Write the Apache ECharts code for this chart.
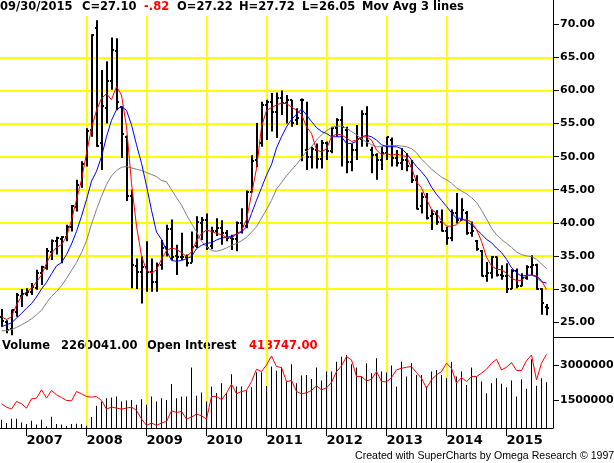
<!DOCTYPE html>
<html>
<head>
<meta charset="utf-8">
<script src="https://cdn.jsdelivr.net/npm/echarts@6/dist/echarts.min.js"></script>
<style>
html, body { margin: 0; padding: 0; background: #fff; }
#chart { width: 614px; height: 463px; }
</style>
</head>
<body>
<div id="chart"></div>
<script>
// monthly bars, Aug 2006 .. Sep 2015
const months = [
  '2006-08', '2006-09', '2006-10', '2006-11', '2006-12',
  '2007-01', '2007-02', '2007-03', '2007-04', '2007-05', '2007-06', '2007-07', '2007-08', '2007-09', '2007-10', '2007-11', '2007-12',
  '2008-01', '2008-02', '2008-03', '2008-04', '2008-05', '2008-06', '2008-07', '2008-08', '2008-09', '2008-10', '2008-11', '2008-12',
  '2009-01', '2009-02', '2009-03', '2009-04', '2009-05', '2009-06', '2009-07', '2009-08', '2009-09', '2009-10', '2009-11', '2009-12',
  '2010-01', '2010-02', '2010-03', '2010-04', '2010-05', '2010-06', '2010-07', '2010-08', '2010-09', '2010-10', '2010-11', '2010-12',
  '2011-01', '2011-02', '2011-03', '2011-04', '2011-05', '2011-06', '2011-07', '2011-08', '2011-09', '2011-10', '2011-11', '2011-12',
  '2012-01', '2012-02', '2012-03', '2012-04', '2012-05', '2012-06', '2012-07', '2012-08', '2012-09', '2012-10', '2012-11', '2012-12',
  '2013-01', '2013-02', '2013-03', '2013-04', '2013-05', '2013-06', '2013-07', '2013-08', '2013-09', '2013-10', '2013-11', '2013-12',
  '2014-01', '2014-02', '2014-03', '2014-04', '2014-05', '2014-06', '2014-07', '2014-08', '2014-09', '2014-10', '2014-11', '2014-12',
  '2015-01', '2015-02', '2015-03', '2015-04', '2015-05', '2015-06', '2015-07', '2015-08', '2015-09'
];

const opens = [
  25.8, 25.0, 24.0, 26.5, 29.0, 29.3, 29.5, 30.2, 32.4, 33.2,
  35.6, 37.2, 37.6, 37.8, 39.3, 42.4, 45.8, 49.6, 54.0, 69.5,
  52.0, 57.3, 61.5, 66.0, 57.5, 53.0, 44.0, 33.5, 32.5, 33.3,
  32.5, 31.0, 33.7, 36.3, 39.0, 35.0, 34.9, 34.9, 34.0, 36.5,
  40.0, 40.4, 36.5, 38.8, 39.2, 38.5, 37.7, 37.5, 39.9, 39.5,
  44.6, 49.5, 52.0, 57.8, 58.3, 56.7, 58.8, 58.1, 58.5, 55.5,
  58.6, 51.0, 50.0, 51.0, 49.6, 52.0, 50.8, 54.3, 55.5, 54.0,
  49.2, 51.0, 52.6, 56.5, 51.0, 50.3, 49.5, 50.5, 52.5, 49.8,
  49.0, 49.5, 48.6, 46.5, 42.5, 43.9, 41.0, 41.3, 40.2, 38.8,
  37.7, 41.5, 40.4, 41.5, 38.5, 37.2, 35.8, 32.0, 32.4, 34.8,
  32.1, 32.0, 30.0, 32.7, 30.5, 31.6, 33.3, 33.6, 30.0, 27.22
];
const highs = [
  27.0, 25.3, 26.9, 29.4, 30.0, 30.1, 30.9, 32.9, 33.5, 36.2,
  37.5, 37.9, 38.0, 39.7, 42.7, 46.5, 49.3, 54.3, 68.5, 70.6,
  63.1, 64.4, 68.0, 67.9, 57.6, 53.2, 45.0, 34.6, 34.9, 37.2,
  34.6, 34.0, 37.4, 39.7, 40.5, 36.7, 38.5, 35.2, 38.7, 41.0,
  40.9, 41.4, 39.4, 40.7, 40.4, 38.9, 38.2, 40.2, 42.2, 44.9,
  50.2, 55.1, 58.3, 58.6, 59.6, 59.7, 60.0, 59.3, 58.6, 57.3,
  58.8, 58.3, 51.5, 52.0, 52.5, 52.3, 54.5, 55.8, 57.6, 54.5,
  52.0, 54.8, 57.0, 57.6, 51.5, 50.5, 51.5, 53.0, 52.9, 51.0,
  51.3, 50.5, 49.5, 47.2, 44.6, 44.5, 42.0, 41.9, 42.0, 39.4,
  42.0, 44.5, 43.7, 41.8, 40.2, 37.4, 35.9, 34.1, 35.0, 34.9,
  33.6, 33.9, 33.0, 33.1, 32.4, 33.6, 35.1, 33.8, 30.1, 27.72
];
const lows = [
  24.3, 23.3, 23.0, 25.8, 27.3, 28.9, 29.1, 29.9, 30.6, 32.9,
  34.4, 35.2, 33.9, 37.2, 38.7, 41.7, 45.3, 48.5, 53.0, 51.5,
  48.0, 55.0, 60.1, 57.0, 49.8, 43.3, 30.1, 30.0, 27.8, 29.6,
  29.6, 29.6, 32.9, 34.9, 34.4, 32.1, 34.4, 33.4, 34.0, 36.2,
  37.4, 35.9, 36.0, 38.0, 36.7, 37.2, 35.9, 35.7, 38.4, 39.2,
  44.6, 48.4, 51.5, 52.5, 53.8, 52.8, 56.3, 55.0, 54.5, 54.8,
  49.3, 48.0, 48.2, 48.2, 48.2, 49.5, 50.5, 53.0, 48.5, 47.5,
  47.8, 49.5, 51.5, 51.5, 47.5, 46.5, 48.0, 49.5, 48.5, 48.5,
  48.0, 47.8, 46.0, 42.0, 41.4, 40.5, 38.9, 39.7, 38.7, 36.7,
  37.2, 39.9, 40.4, 38.2, 37.9, 35.8, 31.9, 31.1, 31.6, 31.9,
  31.4, 29.4, 30.0, 30.1, 30.4, 31.4, 32.1, 29.9, 26.1, 26.05
];
const closes = [
  25.2, 23.8, 26.8, 29.1, 29.2, 29.5, 30.3, 32.4, 33.3, 35.7,
  37.2, 37.7, 37.8, 39.4, 42.5, 45.7, 48.9, 53.8, 68.4, 51.6,
  57.7, 61.4, 66.1, 58.3, 53.4, 44.1, 33.6, 32.5, 33.3, 32.6,
  31.0, 33.6, 36.2, 39.1, 34.9, 34.9, 34.9, 33.9, 36.3, 40.1,
  40.4, 36.2, 38.8, 39.2, 38.5, 37.7, 37.5, 39.9, 39.5, 44.6,
  49.4, 50.6, 57.8, 58.3, 56.7, 58.8, 58.1, 58.6, 55.1, 55.8,
  58.6, 50.0, 51.1, 49.6, 52.0, 50.8, 54.3, 55.5, 54.5, 49.2,
  51.0, 52.6, 56.5, 52.3, 50.3, 49.5, 50.5, 52.9, 49.8, 49.0,
  49.5, 48.6, 46.4, 42.1, 43.9, 40.8, 41.3, 40.2, 38.8, 37.7,
  41.5, 40.4, 42.0, 38.4, 38.8, 36.0, 32.0, 32.4, 34.8, 32.1,
  32.0, 30.0, 32.7, 30.5, 31.6, 33.3, 33.6, 30.0, 27.92, 27.10
];

// the three moving averages as drawn
const maRed = [
  25.8, 25.4, 25.8, 27.6, 28.9, 29.6, 30.1, 31.1, 32.1, 33.9,
  35.4, 36.3, 36.7, 37.9, 40.4, 43.5, 46.5, 50.5, 54.3, 57.0,
  58.8, 59.5, 58.6, 60.6, 59.3, 54.5, 46.0, 39.5, 35.0, 32.8,
  32.4, 32.9, 34.5, 35.8, 36.2, 36.0, 35.5, 34.9, 35.6, 37.3,
  38.4, 38.9, 38.7, 38.4, 38.2, 37.8, 37.7, 38.3, 38.8, 40.5,
  44.3, 48.2, 54.5, 57.0, 57.4, 57.8, 58.1, 58.0, 57.5, 57.0,
  56.4, 54.5, 53.5, 51.0, 50.7, 51.2, 53.0, 53.4, 53.3, 52.8,
  52.3, 52.5, 53.0, 53.0, 52.5, 51.0, 50.3, 50.5, 50.2, 50.4,
  50.2, 50.0, 48.3, 46.2, 45.3, 43.6, 42.0, 41.5, 40.3, 39.5,
  39.5, 39.7, 40.4, 40.5, 40.1, 39.0, 37.2, 34.8, 33.5, 33.0,
  32.9, 32.4, 31.6, 31.3, 31.3, 32.0, 32.1, 32.0, 31.3, 29.9
];
const maBlue = [
  24.3, 24.6, 24.9, 25.6, 26.3, 27.1, 27.8, 28.8, 30.0, 31.0,
  32.3, 33.5, 34.0, 35.2, 36.8, 38.7, 41.0, 43.5, 46.3, 47.8,
  50.0, 53.0, 55.5, 57.1, 57.6, 57.0, 54.8, 51.8, 49.0, 45.6,
  41.9, 38.6, 37.5, 35.8, 34.3, 34.2, 34.3, 34.6, 34.9, 36.1,
  36.6, 36.9, 37.0, 37.4, 37.7, 37.8, 38.0, 38.3, 38.6, 39.4,
  41.4, 43.4, 45.3, 47.2, 48.8, 51.3, 53.0, 54.5, 55.6, 56.4,
  57.2, 56.3, 55.3, 54.4, 53.8, 53.5, 53.0, 53.0, 53.0, 52.0,
  52.0, 52.3, 53.0, 53.2, 53.0, 52.5, 51.8, 51.5, 51.5, 51.5,
  51.2, 50.5, 49.5, 48.5, 47.7, 46.8, 45.4, 44.3, 43.4, 42.5,
  41.5, 40.7, 40.7, 40.2, 39.7, 39.0, 38.3, 37.5, 37.0, 36.2,
  35.5, 34.5, 33.2, 32.5, 31.9, 32.1, 32.1, 31.8, 31.1, 30.9
];
const maGray = [
  23.7, 23.7, 23.9, 24.2, 24.6, 25.0, 25.5, 26.1, 26.8, 27.9,
  28.9, 29.6, 30.5, 31.6, 32.8, 34.0, 35.5, 37.3, 39.8, 42.0,
  44.0, 45.8, 47.1, 47.9, 48.4, 48.5, 48.3, 48.1, 47.9, 47.6,
  47.3, 47.0, 46.4, 46.2, 45.0, 43.8, 42.7, 41.2, 39.9, 38.7,
  37.2, 36.4, 35.8, 35.7, 35.9, 36.2, 36.6, 36.9, 37.3, 37.8,
  38.6, 39.4, 40.7, 42.0, 43.4, 45.1, 46.1, 47.1, 48.0, 48.8,
  49.8, 50.8, 51.5, 52.5, 53.3, 53.9, 54.4, 54.6, 54.6, 54.3,
  53.8, 53.3, 52.7, 52.2, 51.8, 51.5, 51.5, 51.7, 51.7, 51.7,
  51.6, 51.5, 51.2, 50.6, 49.6, 48.9, 48.1, 47.5, 46.9, 46.5,
  46.0, 45.3, 44.8, 44.4, 43.8, 43.1, 41.9, 40.6, 39.2, 38.2,
  37.5, 36.9, 36.3, 35.6, 35.2, 35.0, 34.9, 34.5, 33.8, 33.1
];

const volume = [
  663000, 523000, 705000, 705000, 540000, 480000, 620000, 460000, 663000, 380000,
  790000, 480000, 460000, 400000, 480000, 495000, 480000, 410000, 777000, 1260000,
  1440000, 1580000, 1610000, 1650000, 1440000, 1480000, 1500000, 1300000, 1540000, 1300000,
  1650000, 1440000, 1580000, 1500000, 2190000, 1580000, 1650000, 1650000, 2890000, 1690000,
  1820000, 1440000, 2080000, 1800000, 2220000, 1800000, 2600000, 2080000, 2080000, 1900000,
  2050000, 2690000, 2690000, 2100000, 2930000, 2750000, 2890000, 2290000, 3030000, 2220000,
  2547000, 2575000, 2405000, 2887000, 2334000, 2717000, 2717000, 3142000, 3354000, 3425000,
  3028000, 2887000, 2504000, 3071000, 2646000, 3283000, 2717000, 2674000, 2972000, 2079000,
  3142000, 2504000, 3071000, 2575000, 2575000, 2079000, 2717000, 2788000, 2575000, 2433000,
  3142000, 2504000, 2717000, 2150000, 2887000, 2504000, 2292000, 1796000, 2221000, 2433000,
  2193000, 2051000, 2334000, 1654000, 2391000, 1980000, 3241000, 2108000, 2433000, 2260041
];
const openInterest = [
  135900, 117300, 106100, 148900, 135900, 111700, 163900, 167600, 214200, 167600,
  210500, 186200, 171300, 154500, 152700, 204900, 191800, 176900, 173200, 176900,
  154500, 106100, 117300, 111700, 106100, 111700, 117300, 98600, 50200, 14700,
  27800, 14700, 27800, 37100, 96700, 87400, 93000, 50200, 61300, 78100,
  68800, 50200, 176900, 176900, 158300, 195600, 245900, 191800, 204900, 210500,
  260800, 329800, 316700, 354000, 404300, 344700, 339100, 260800, 266400, 204900,
  191800, 197400, 210500, 236600, 214200, 225400, 255200, 316700, 348400, 400600,
  382000, 288700, 288700, 264500, 273800, 316700, 260800, 258900, 283100, 326000,
  335300, 341000, 344700, 311100, 279400, 223500, 270100, 298100, 316700, 363300,
  335300, 251500, 283100, 260800, 288700, 288700, 307400, 329700, 363300, 385700,
  326000, 341000, 367000, 322300, 322300, 378200, 409900, 270100, 363300, 413747
];

const priceTicks = [25, 30, 35, 40, 45, 50, 55, 60, 65, 70];
const volumeTicks = [1500000, 3000000];

const idx = months.map((m, i) => i);
const yearTicks = idx.filter(i => months[i].endsWith('-01'));

const boldFont = '"DejaVu Sans"';
const yellow = '#ffff00';

const chart = echarts.init(document.getElementById('chart'));

function txt(x, y, s, color, size) {
  return {
    type: 'text', x: x, y: y, silent: true,
    style: {
      text: s, fill: color || '#000',
      font: 'bold ' + (size || 11.5) + 'px "DejaVu Sans"',
      verticalAlign: 'middle'
    }
  };
}

// a fresh object each time, echarts merges into option objects
function gridLine() {
  return { show: true, showMinLine: false, showMaxLine: false, lineStyle: { color: yellow, width: 2, opacity: 1 } };
}

chart.setOption({
  animation: false,
  backgroundColor: '#fff',
  grid: [
    { left: 0, right: 61, top: 16, height: 322, outerBoundsMode: 'none' },
    { left: 0, right: 61, top: 338, height: 90, outerBoundsMode: 'none' }
  ],
  xAxis: [
    {
      gridIndex: 0, type: 'value', min: -0.3, max: 110.3,
      axisLine: { show: false, onZero: false },
      axisTick: { show: false, customValues: yearTicks },
      axisLabel: { show: false },
      splitLine: gridLine()
    },
    {
      gridIndex: 1, type: 'value', min: -0.3, max: 110.3,
      axisLine: { show: true, onZero: false, lineStyle: { color: '#000', width: 1 } },
      axisTick: { show: true, customValues: yearTicks, length: 8, lineStyle: { color: '#000', width: 1 } },
      axisLabel: {
        customValues: yearTicks,
        formatter: v => months[v].slice(0, 4),
        align: 'left', margin: 6, color: '#000',
        fontFamily: boldFont, fontWeight: 'bold', fontSize: 13
      },
      splitLine: gridLine()
    }
  ],
  yAxis: [
    {
      gridIndex: 0, type: 'value', position: 'right', min: 22.6, max: 71.25,
      axisLine: { show: true, onZero: false, lineStyle: { color: '#000', width: 1 } },
      axisTick: { show: true, customValues: priceTicks, length: 6, lineStyle: { color: '#000' } },
      axisLabel: {
        customValues: priceTicks, formatter: v => v.toFixed(2), margin: 7,
        color: '#000', fontFamily: boldFont, fontWeight: 'bold', fontSize: 11
      },
      splitLine: gridLine()
    },
    {
      gridIndex: 1, type: 'value', position: 'right', min: 310000, max: 4150000,
      axisLine: { show: true, onZero: false, lineStyle: { color: '#000', width: 1 } },
      axisTick: { show: true, customValues: volumeTicks, length: 6, lineStyle: { color: '#000' } },
      axisLabel: {
        customValues: volumeTicks, formatter: v => String(v), margin: 7,
        color: '#000', fontFamily: boldFont, fontWeight: 'bold', fontSize: 11
      },
      splitLine: gridLine()
    },
    {
      gridIndex: 1, type: 'value', position: 'right', min: 0, max: 505000, show: false,
      axisLine: { show: false, onZero: false },
      splitLine: { show: false }
    }
  ],
  series: [
    {
      type: 'bar', xAxisIndex: 1, yAxisIndex: 1, barWidth: 1,
      itemStyle: { color: '#000' },
      data: idx.map(i => [i, volume[i]])
    },
    {
      type: 'line', xAxisIndex: 1, yAxisIndex: 2, showSymbol: false,
      lineStyle: { color: '#ff0000', width: 1 },
      data: idx.map(i => [i, openInterest[i]])
    },
    {
      type: 'custom', xAxisIndex: 0, yAxisIndex: 0,
      data: idx.map(i => [i, opens[i], highs[i], lows[i], closes[i]]),
      renderItem: function (params, api) {
        const x = api.value(0);
        const o = api.coord([x, api.value(1)]);
        const h = api.coord([x, api.value(2)]);
        const l = api.coord([x, api.value(3)]);
        const c = api.coord([x, api.value(4)]);
        const px = Math.round(o[0]);
        const st = { stroke: '#000', lineWidth: 2 };
        return {
          type: 'group',
          children: [
            { type: 'line', shape: { x1: px, y1: h[1], x2: px, y2: l[1] }, style: st },
            { type: 'line', shape: { x1: px - 2, y1: Math.round(o[1]), x2: px, y2: Math.round(o[1]) }, style: st },
            { type: 'line', shape: { x1: px, y1: Math.round(c[1]), x2: px + 2, y2: Math.round(c[1]) }, style: st }
          ]
        };
      }
    },
    {
      type: 'line', xAxisIndex: 0, yAxisIndex: 0, showSymbol: false,
      lineStyle: { color: '#808080', width: 1 },
      data: idx.map(i => [i, maGray[i]])
    },
    {
      type: 'line', xAxisIndex: 0, yAxisIndex: 0, showSymbol: false,
      lineStyle: { color: '#0000ff', width: 1 },
      data: idx.map(i => [i, maBlue[i]])
    },
    {
      type: 'line', xAxisIndex: 0, yAxisIndex: 0, showSymbol: false,
      lineStyle: { color: '#ff0000', width: 1 },
      data: idx.map(i => [i, maRed[i]])
    }
  ],
  graphic: [
    { type: 'line', silent: true, shape: { x1: 553.5, y1: 0, x2: 553.5, y2: 16 }, style: { stroke: '#000', lineWidth: 1 } },
    { type: 'line', silent: true, shape: { x1: 553, y1: 337.5, x2: 614, y2: 337.5 }, style: { stroke: '#000', lineWidth: 1 } },
    txt(0, 7.5, '09/30/2015'),
    txt(82, 7.5, 'C=27.10'),
    txt(144, 7.5, '-.82', '#ff0000'),
    txt(177, 7.5, 'O=27.22'),
    txt(239, 7.5, 'H=27.72'),
    txt(302, 7.5, 'L=26.05'),
    txt(362, 7.5, 'Mov Avg 3 lines'),
    txt(2, 346, 'Volume'),
    txt(61, 346, '2260041.00'),
    txt(147, 346, 'Open Interest'),
    txt(249, 346, '413747.00', '#ff0000'),
    {
      type: 'text', x: 355, y: 456.5, silent: true,
      style: {
        text: 'Created with SuperCharts by Omega Research \u00a9 1997',
        fill: '#000', font: '10.6px "Liberation Sans"', verticalAlign: 'middle'
      }
    }
  ]
});
</script>
</body>
</html>
